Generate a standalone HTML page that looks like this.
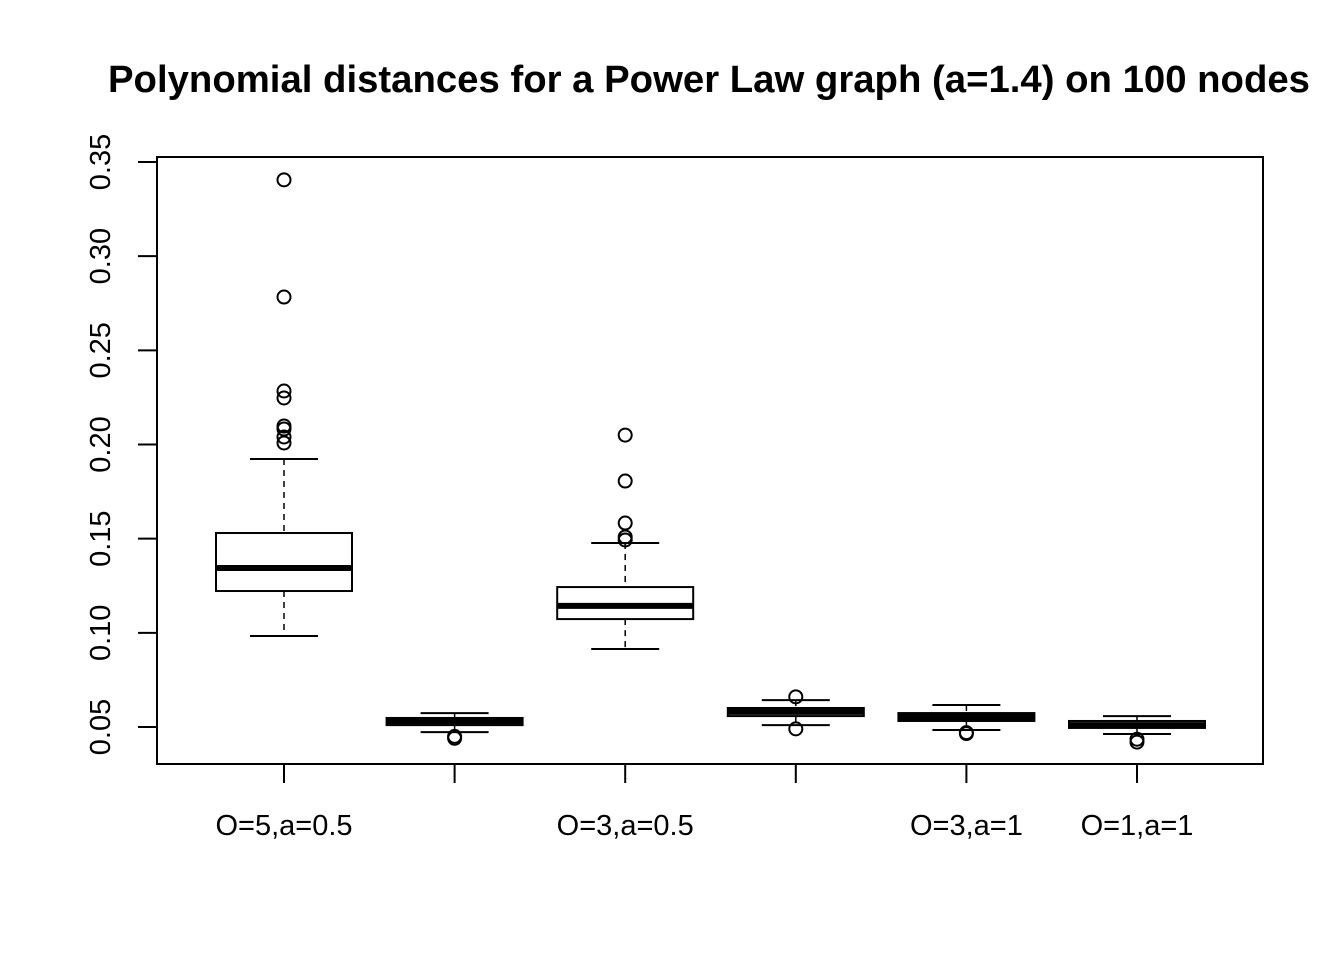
<!DOCTYPE html>
<html><head><meta charset="utf-8"><style>body{margin:0;background:#fff}svg text{font-family:"Liberation Sans",Arial,sans-serif}</style></head>
<body>
<svg id="chart" width="1344" height="960" xmlns="http://www.w3.org/2000/svg">
<text x="709" y="92" font-size="38" font-weight="bold" text-anchor="middle" textLength="1202" lengthAdjust="spacingAndGlyphs">Polynomial distances for a Power Law graph (a=1.4) on 100 nodes</text>
<rect x="157" y="157" width="1106" height="607" fill="none" stroke="#000" stroke-width="2"/>
<g id="g"></g>
</svg>
<script>
const categories=["O=5,a=0.5","","O=3,a=0.5","","O=3,a=1","O=1,a=1"];
const whiskerLow=[0.0983,0.0473,0.0914,0.0510,0.0484,0.0463];
const q1=[0.1222,0.0510,0.1073,0.0558,0.0532,0.0495];
const medians=[0.1344,0.0530,0.1143,0.0580,0.0553,0.0510];
const q3=[0.1530,0.0548,0.1243,0.0601,0.0574,0.0532];
const whiskerHigh=[0.1923,0.0574,0.1477,0.0643,0.0617,0.0558];
const outliers=[[0.3405,0.2783,0.2284,0.2247,0.2098,0.2082,0.2040,0.2008],[0.0440,0.0450],[0.2050,0.1806,0.1583,0.1509,0.1493],[0.0660,0.0490],[0.0465,0.0470],[0.0435,0.0420]];
const yTicks=[0.05,0.10,0.15,0.20,0.25,0.30,0.35];
const tickLabels=["0.05","0.10","0.15","0.20","0.25","0.30","0.35"];
const y=v=>727-(v-0.05)/0.05*94.17;
const x=i=>284+i*170.6;
const g=document.getElementById('g');
const NS="http://www.w3.org/2000/svg";
function mk(t,a){const e=document.createElementNS(NS,t);for(const k in a)e.setAttribute(k,a[k]);g.appendChild(e);return e;}
yTicks.forEach((v,i)=>{
 const l=mk('line',{x1:138,x2:157,y1:y(v),y2:y(v),stroke:'#000','stroke-width':2});
 
 
 const t=mk('text',{x:0,y:10,'font-size':29,'text-anchor':'middle',transform:`translate(100,${y(v)}) rotate(-90)`});
 t.textContent=tickLabels[i];
 
 
});
categories.forEach((c,i)=>{
 const cx=x(i);
 const tk=mk('line',{x1:cx,x2:cx,y1:764,y2:783,stroke:'#000','stroke-width':2});
 
 
 if(c){const t=mk('text',{x:cx,y:835,'font-size':29,'text-anchor':'middle'});t.textContent=c;
 
 }
 const w1=mk('line',{x1:cx,x2:cx,y1:y(whiskerHigh[i]),y2:y(q3[i]),stroke:'#000','stroke-width':1.5,'stroke-dasharray':'6,5'});
 
 
 const w2=mk('line',{x1:cx,x2:cx,y1:y(q1[i]),y2:y(whiskerLow[i]),stroke:'#000','stroke-width':1.5,'stroke-dasharray':'6,5'});
 
 
 [whiskerHigh[i],whiskerLow[i]].forEach(v=>{const cap=mk('line',{x1:cx-34,x2:cx+34,y1:y(v),y2:y(v),stroke:'#000','stroke-width':2});
 
 });
 const b=mk('rect',{x:cx-68,y:y(q3[i]),width:136,height:y(q1[i])-y(q3[i]),fill:'none',stroke:'#000','stroke-width':2});
 
 
 const m=mk('line',{x1:cx-68,x2:cx+68,y1:y(medians[i]),y2:y(medians[i]),stroke:'#000','stroke-width':6});
 
 
 outliers[i].forEach(v=>{const o=mk('circle',{cx:cx,cy:y(v),r:6.5,fill:'none',stroke:'#000','stroke-width':2});
 
 });
});
</script>
</body></html>
